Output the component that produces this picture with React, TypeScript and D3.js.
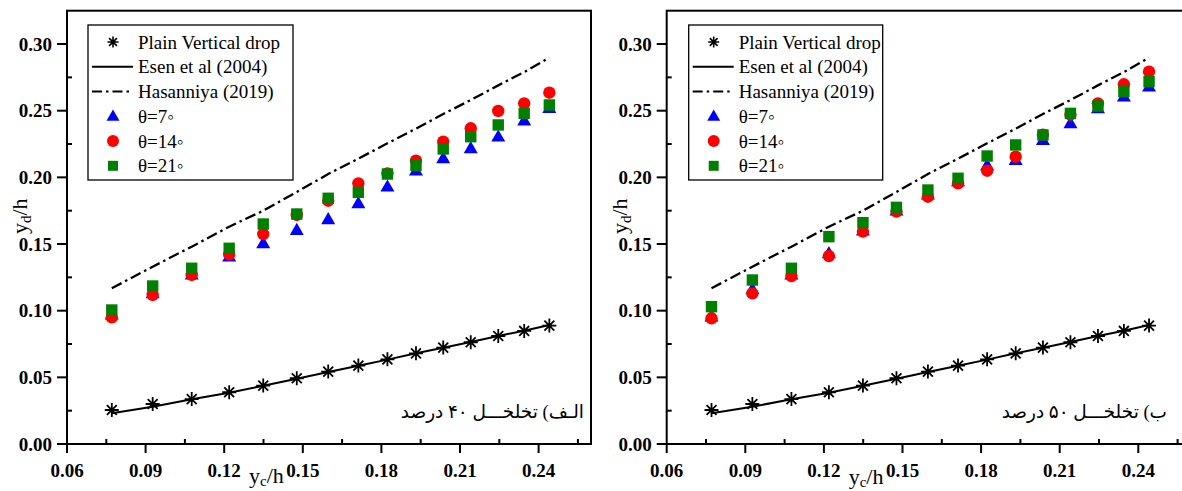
import React from "react";
import * as d3 from "d3";

// ---- data ----
const xValues = [0.0771, 0.0927, 0.1076, 0.1219, 0.1349, 0.1477, 0.1597, 0.1712, 0.1823, 0.1932, 0.2036, 0.2141, 0.2246, 0.2345, 0.2441];
const plainDrop = [0.0255, 0.030, 0.0337, 0.0388, 0.0438, 0.0493, 0.0543, 0.0588, 0.0635, 0.068, 0.0723, 0.0763, 0.081, 0.0848, 0.0888];
const esen = [0.023, 0.028, 0.0335, 0.0385, 0.0437, 0.049, 0.054, 0.0587, 0.0633, 0.068, 0.0722, 0.0765, 0.081, 0.085, 0.0893];
const hasanniya = [0.1168, 0.133, 0.148, 0.163, 0.175, 0.189, 0.2025, 0.214, 0.2255, 0.2365, 0.2475, 0.258, 0.269, 0.279, 0.2898];

const theta7Left = [0.097, 0.113, 0.127, 0.1405, 0.1505, 0.1605, 0.1685, 0.1805, 0.193, 0.205, 0.2143, 0.2218, 0.2305, 0.2426, 0.252];
const theta14Left = [0.095, 0.1118, 0.1268, 0.1423, 0.1575, 0.1718, 0.1825, 0.1955, 0.203, 0.2125, 0.2268, 0.2368, 0.2498, 0.2555, 0.2635];
const theta21Left = [0.1005, 0.1185, 0.1318, 0.1468, 0.165, 0.1725, 0.1843, 0.1888, 0.2025, 0.209, 0.2213, 0.2305, 0.2393, 0.248, 0.2543];

const theta7Right = [0.0955, 0.116, 0.127, 0.143, 0.160, 0.175, 0.187, 0.197, 0.209, 0.213, 0.228, 0.2405, 0.2518, 0.2605, 0.268];
const theta14Right = [0.0943, 0.113, 0.126, 0.141, 0.1593, 0.1743, 0.1855, 0.1955, 0.205, 0.2155, 0.232, 0.247, 0.2555, 0.2698, 0.2793];
const theta21Right = [0.103, 0.123, 0.1318, 0.1555, 0.166, 0.1775, 0.1905, 0.1993, 0.216, 0.2243, 0.2318, 0.248, 0.2535, 0.2643, 0.2718];

const xMajorTicks = [0.06, 0.09, 0.12, 0.15, 0.18, 0.21, 0.24];
const xMinorTicks = [0.075, 0.105, 0.135, 0.165, 0.195, 0.225, 0.255];
const yMajorTicks = [0.0, 0.05, 0.1, 0.15, 0.2, 0.25, 0.3];
const yMinorTicks = [0.025, 0.075, 0.125, 0.175, 0.225, 0.275];

const legendLabels = ["Plain Vertical drop", "Esen et al (2004)", "Hasanniya (2019)", "θ=7◦", "θ=14◦", "θ=21◦"];
const panelCaptions = ["الـف) تخلخـــل ۴۰ درصد", "ب) تخلخـــل ۵۰ درصد"];

const SERIF = "'Liberation Serif', 'Times New Roman', 'DejaVu Serif', serif";
const PERSIAN = "'Liberation Serif', 'DejaVu Sans', 'Noto Sans', serif";

const BLUE = "#0000ff";
const RED = "#ff0000";
const GREEN = "#008000";

function starPath(cx: number, cy: number, r: number) {
  const d = r * Math.SQRT1_2;
  return `M${cx - r},${cy}L${cx + r},${cy}M${cx},${cy - r}L${cx},${cy + r}M${cx - d},${cy - d}L${cx + d},${cy + d}M${cx - d},${cy + d}L${cx + d},${cy - d}`;
}
function triPath(cx: number, cy: number, s: number) {
  const h = s * 0.87;
  return `M${cx},${cy - h * 0.6}L${cx + s / 2},${cy + h * 0.4}L${cx - s / 2},${cy + h * 0.4}Z`;
}

type PanelProps = {
  x0: number;
  t7: number[];
  t14: number[];
  t21: number[];
  caption: string;
  captionX: number;
  legendDx: number;
  legendW: number;
  xTitleY: number;
};

function Panel({ x0, t7, t14, t21, caption, captionX, legendDx, legendW, xTitleY }: PanelProps) {
  const x = d3.scaleLinear().domain([0.06, 0.26]).range([x0, x0 + 524]);
  const y = d3.scaleLinear().domain([0, 0.325]).range([444, 10.7]);
  const top = y(0.325);
  const bottom = y(0);
  const left = x(0.06);
  const right = x(0.26);

  const esenLine = d3.line<number>().x((_, i) => x(xValues[i])).y((d) => y(d))(esen) || "";
  const hasLine = d3.line<number>().x((_, i) => x(xValues[i])).y((d) => y(d))(hasanniya) || "";

  const lx = x0 + legendDx;
  const rowY = [42, 66.7, 91.5, 116.3, 141, 165.8];
  const symX = lx + 25;
  const textX = lx + 50;

  return (
    <g>
      {/* lines */}
      <path d={esenLine} fill="none" stroke="#000" strokeWidth={2} />
      <path d={hasLine} fill="none" stroke="#000" strokeWidth={2.3} strokeDasharray="11 4 2.5 4" />
      {/* stars */}
      {plainDrop.map((v, i) => (
        <path key={"s" + i} d={starPath(x(xValues[i]), y(v), 7)} stroke="#000" strokeWidth={1.8} fill="none" />
      ))}
      {t7.map((v, i) => (
        <path key={"b" + i} d={triPath(x(xValues[i]), y(v), 14)} fill={BLUE} />
      ))}
      {t14.map((v, i) => (
        <circle key={"r" + i} cx={x(xValues[i])} cy={y(v)} r={6.2} fill={RED} />
      ))}
      {t21.map((v, i) => (
        <rect key={"g" + i} x={x(xValues[i]) - 5.7} y={y(v) - 5.7} width={11.4} height={11.4} fill={GREEN} />
      ))}

      {/* frame */}
      <rect x={left} y={top} width={right - left} height={bottom - top} fill="none" stroke="#000" strokeWidth={2} />

      {/* y ticks */}
      {yMajorTicks.map((t) => (
        <g key={"ym" + t}>
          <line x1={left - 10} x2={left} y1={y(t)} y2={y(t)} stroke="#000" strokeWidth={2} />
          <text x={left - 15} y={y(t) + 6.5} textAnchor="end" fontFamily={SERIF} fontWeight="bold" fontSize={19}>
            {d3.format(".2f")(t)}
          </text>
        </g>
      ))}
      {yMinorTicks.map((t) => (
        <line key={"yn" + t} x1={left} x2={left + 5} y1={y(t)} y2={y(t)} stroke="#000" strokeWidth={2} />
      ))}
      {/* x ticks */}
      {xMajorTicks.map((t) => (
        <g key={"xm" + t}>
          <line x1={x(t)} x2={x(t)} y1={bottom} y2={bottom + 9} stroke="#000" strokeWidth={2} />
          <text x={x(t)} y={477} textAnchor="middle" fontFamily={SERIF} fontWeight="bold" fontSize={19}>
            {d3.format(".2f")(t)}
          </text>
        </g>
      ))}
      {xMinorTicks.map((t) => (
        <line key={"xn" + t} x1={x(t)} x2={x(t)} y1={bottom} y2={bottom - 5} stroke="#000" strokeWidth={2} />
      ))}

      {/* axis titles */}
      <text x={x0 + 182} y={xTitleY} fontFamily={SERIF} fontSize={22}>
        y<tspan fontSize={15} dy={3}>c</tspan>
        <tspan dy={-3}>/h</tspan>
      </text>
      <text transform={`translate(${x0 - 40},${234}) rotate(-90)`} fontFamily={SERIF} fontSize={22}>
        y<tspan fontSize={15} dy={4}>d</tspan>
        <tspan dy={-4}>/h</tspan>
      </text>

      {/* caption */}
      <text x={captionX} y={418} textAnchor="end" fontFamily={PERSIAN} fontSize={18.5}>
        {caption}
      </text>

      {/* legend */}
      <rect x={lx} y={25} width={legendW} height={155} fill="#fff" stroke="#000" strokeWidth={1.3} />
      <path d={starPath(symX, rowY[0], 5.5)} stroke="#000" strokeWidth={1.6} fill="none" />
      <line x1={lx + 4} x2={lx + 45} y1={rowY[1]} y2={rowY[1]} stroke="#000" strokeWidth={2} />
      <line x1={lx + 4} x2={lx + 45} y1={rowY[2]} y2={rowY[2]} stroke="#000" strokeWidth={2} strokeDasharray="10 4 2.5 4" />
      <path d={triPath(symX, rowY[3], 13)} fill={BLUE} />
      <circle cx={symX} cy={rowY[4]} r={6} fill={RED} />
      <rect x={symX - 5} y={rowY[5] - 5} width={10} height={10} fill={GREEN} />
      {legendLabels.map((l, i) => (
        <text key={l} x={textX} y={rowY[i] + 6.5} fontFamily={SERIF} fontSize={19}>
          {l}
        </text>
      ))}
    </g>
  );
}

export default function App() {
  return (
    <svg width={1182} height={491} style={{ position: "absolute", left: 0, top: 0, background: "#fff" }}>
      <rect x={0} y={0} width={1182} height={491} fill="#fff" />
      <Panel x0={67} t7={theta7Left} t14={theta14Left} t21={theta21Left} caption={panelCaptions[0]} captionX={584} legendDx={21} legendW={205} xTitleY={483} />
      <Panel x0={666.7} t7={theta7Right} t14={theta14Right} t21={theta21Right} caption={panelCaptions[1]} captionX={1167} legendDx={22} legendW={194} xTitleY={484} />
    </svg>
  );
}
